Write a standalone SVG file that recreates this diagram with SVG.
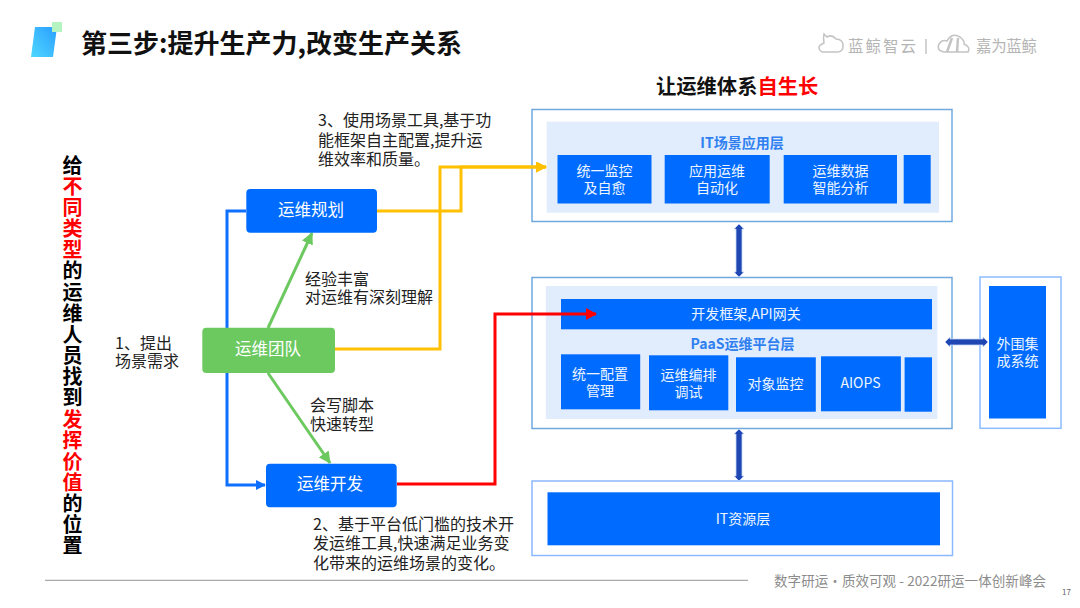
<svg xmlns="http://www.w3.org/2000/svg" width="1080" height="608" viewBox="0 0 1080 608">
<style>
text{font-family:"Noto Sans CJK SC","Liberation Sans",sans-serif}
.b{fill:#006cff}
.o{fill:#fff;stroke:#6fa9e0;stroke-width:1.5}
.i{fill:#e1edfd}
.w{fill:#eef5ff;font-size:14px;text-anchor:middle}
.n{fill:#fff;font-size:16.5px;text-anchor:middle}
.h{fill:#2f7ff0;font-size:14px;font-weight:700;text-anchor:middle}
.t{fill:#222;font-size:16px}
.c{fill:none;stroke-width:3}
.d{fill:#1f47b4;stroke:#c4d4f4;stroke-width:.8}
.v{font-size:20px;font-weight:700;writing-mode:vertical-rl;letter-spacing:1.15px}
.logo{fill:#b5b5b5;font-size:15.5px}
</style>
<defs>
<marker id="ab" markerUnits="userSpaceOnUse" markerWidth="10" markerHeight="10" refX="9" refY="5" orient="auto"><path d="M0 0L10 5L0 10Z" fill="#0f6fff"/></marker>
<marker id="ag" markerUnits="userSpaceOnUse" markerWidth="12" markerHeight="12" refX="11" refY="6" orient="auto"><path d="M0 0L12 6L0 12Z" fill="#6cc95f"/></marker>
<marker id="ay" markerUnits="userSpaceOnUse" markerWidth="11" markerHeight="11" refX="10" refY="5.5" orient="auto"><path d="M0 0L11 5.5L0 11Z" fill="#ffc000"/></marker>
<marker id="ar" markerUnits="userSpaceOnUse" markerWidth="11" markerHeight="12" refX="10" refY="6" orient="auto"><path d="M0 0L11 6L0 12Z" fill="#f00"/></marker>
<linearGradient id="ig" x1="0" y1="1" x2="1" y2="0"><stop offset="0" stop-color="#4fd8ff"/><stop offset="1" stop-color="#2a9dff"/></linearGradient>
</defs>
<g id="header">
<polygon points="35,27 57,27 53,57 31,57" fill="url(#ig)"/>
<rect x="52" y="22" width="10" height="10" fill="#b5f3c0"/>
<text x="81" y="52.5" font-size="26" font-weight="700" fill="#111">第三步:提升生产力,改变生产关系</text>
</g>
<g id="logos" fill="none" stroke="#c4c4c4" stroke-width="1.5">
<path d="M822 52H837Q843 52 843 46Q843 39 836 39Q832 34 827 37L824 34Q823 38 824 43Q815 47 822 52Z"/>
<line x1="926" y1="39" x2="926" y2="54"/>
<path d="M945 52Q936 51 939 44Q942 39 947 41Q952 32 960 37Q965 41 964 44Q971 47 968 52Z"/>
<path d="M952 38L947 52M958 38L957 52" stroke-width="2.5"/>
<text x="848" y="52" class="logo" stroke="none" textLength="68">蓝鲸智云</text>
<text x="976" y="52" class="logo" stroke="none" textLength="61">嘉为蓝鲸</text>
</g>
<g id="side-title">
<text class="v" x="72.5" y="155" fill="#000">给<tspan fill="#f00">不同类型</tspan>的运维人员找到<tspan fill="#f00">发挥价值</tspan>的位置</text>
</g>
<g id="layer-app">
<rect class="o" x="532" y="109.5" width="420" height="112"/>
<rect class="i" x="546.7" y="121.7" width="392.3" height="91"/>
<text class="h" x="742" y="148">IT场景应用层</text>
<rect class="b" x="557.5" y="155" width="94" height="48.5"/>
<text class="w" x="604.5" y="176">统一监控</text><text class="w" x="604.5" y="193">及自愈</text>
<rect class="b" x="664.7" y="155" width="105" height="48.5"/>
<text class="w" x="717" y="176">应用运维</text><text class="w" x="717" y="193">自动化</text>
<rect class="b" x="783.7" y="155" width="113.3" height="48.5"/>
<text class="w" x="840.5" y="176">运维数据</text><text class="w" x="840.5" y="193">智能分析</text>
<rect class="b" x="903.7" y="155" width="27" height="48.5"/>
</g>
<g id="layer-paas">
<rect class="o" x="532" y="277.5" width="420" height="151"/>
<rect class="i" x="545.8" y="286" width="391.6" height="133"/>
<rect class="b" x="561" y="299" width="371" height="30.3"/>
<text class="w" x="746" y="319">开发框架,API网关</text>
<text class="h" x="742.5" y="349">PaaS运维平台层</text>
<rect class="b" x="561" y="354.3" width="79.2" height="55"/>
<text class="w" x="600" y="379">统一配置</text><text class="w" x="600" y="396">管理</text>
<rect class="b" x="649" y="355.3" width="79.3" height="55"/>
<text class="w" x="688.5" y="380">运维编排</text><text class="w" x="688.5" y="397">调试</text>
<rect class="b" x="736" y="357.3" width="79.8" height="54.4"/>
<text class="w" x="775.5" y="389">对象监控</text>
<rect class="b" x="821" y="356.3" width="79.9" height="55"/>
<text class="w" x="860.5" y="388">AIOPS</text>
<rect class="b" x="904.6" y="357.3" width="27.4" height="54.4"/>
</g>
<g id="layer-ext">
<rect x="980" y="277" width="81" height="151.3" fill="#fff" stroke="#8cbcff" stroke-width="1.5"/>
<rect class="b" x="989" y="286" width="57" height="132.5"/>
<text class="w" x="1017.5" y="349">外围集</text><text class="w" x="1017.5" y="366">成系统</text>
</g>
<g id="layer-res">
<rect x="532" y="481" width="420.5" height="74.5" fill="#fff" stroke="#8cb8ff" stroke-width="1.5"/>
<rect class="b" x="547.5" y="492.3" width="392.5" height="53"/>
<text class="w" x="743" y="524" font-size="13">IT资源层</text>
</g>
<g id="connectors">
<path class="c" stroke="#0f6fff" d="M246 211H227V485H265" marker-end="url(#ab)"/>
<path class="c" stroke="#6cc95f" stroke-width="3.4" d="M268 328L312 233" marker-end="url(#ag)"/>
<path class="c" stroke="#6cc95f" stroke-width="3.4" d="M268 373L330 463" marker-end="url(#ag)"/>
<path class="c" stroke="#ffc000" d="M377 211H461V167H546" marker-end="url(#ay)"/>
<path class="c" stroke="#ffc000" d="M335 349H440V167H546" marker-end="url(#ay)"/>
<path class="c" stroke="#f00" d="M397 484H495V314H596" marker-end="url(#ar)"/>
<polygon class="d" points="739,224 744,229 742,229 742,272 744,272 739,277 734,272 736,272 736,229 734,229"/>
<polygon class="d" points="739,429 744,434 742,434 742,476 744,476 739,481 734,476 736,476 736,434 734,434"/>
<polygon class="d" points="945,342 950,337 950,339 983,339 983,337 988,342 983,347 983,345 950,345 950,347"/>
</g>
<g id="node-plan"><rect class="b" x="246.3" y="189" width="130.7" height="43.7" rx="4"/><text class="n" x="311" y="216">运维规划</text></g>
<g id="node-team"><rect x="202.3" y="327.7" width="132.7" height="45.3" rx="4" fill="#6cc95f"/><text class="n" x="268" y="355">运维团队</text></g>
<g id="node-dev"><rect class="b" x="266" y="463.7" width="130.7" height="43.6" rx="4"/><text class="n" x="330" y="490">运维开发</text></g>
<g id="labels">
<text class="t" x="115" y="349">1、提出</text><text class="t" x="115" y="367">场景需求</text>
<text class="t" x="305" y="285">经验丰富</text><text class="t" x="305" y="303">对运维有深刻理解</text>
<text class="t" x="310" y="411">会写脚本</text><text class="t" x="310" y="430">快速转型</text>
<text class="t" x="318" y="126">3、使用场景工具,基于功</text><text class="t" x="318" y="146">能框架自主配置,提升运</text><text class="t" x="318" y="165">维效率和质量。</text>
<text class="t" x="313" y="530">2、基于平台低门槛的技术开</text><text class="t" x="313" y="549">发运维工具,快速满足业务变</text><text class="t" x="313" y="569">化带来的运维场景的变化。</text>
<text x="656" y="94" font-size="20.3" font-weight="700" fill="#111">让运维体系<tspan fill="#f00">自生长</tspan></text>
</g>
<g id="footer">
<line x1="45" y1="580.3" x2="748" y2="580.3" stroke="#aaa" stroke-width="1.2"/>
<text x="774" y="586" font-size="13.5" fill="#8c8c8c" textLength="272">数字研运·质效可观  -  2022研运一体创新峰会</text>
<text x="1062" y="595" font-size="8" fill="#666">17</text>
</g>
</svg>
